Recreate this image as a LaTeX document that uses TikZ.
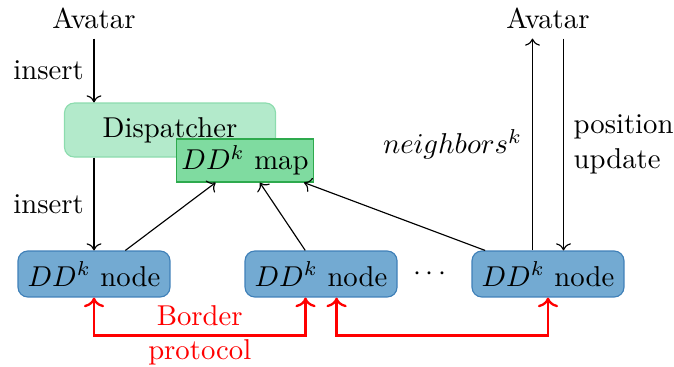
\documentclass[tikz,border=0pt]{standalone}
\usepackage{tikz}
\usetikzlibrary{positioning, arrows.meta}

\definecolor{dispfill}{HTML}{B3EACB}
\definecolor{dispdraw}{HTML}{8CDCAE}
\definecolor{mapfill}{HTML}{7FDBA0}
\definecolor{mapdraw}{HTML}{2EAA4E}
\definecolor{ddfill}{HTML}{73AAD2}
\definecolor{dddraw}{HTML}{3F80B8}

\tikzset{
  dispbox/.style={draw=dispdraw, fill=dispfill, rounded corners=0.12cm,
    minimum width=2.584cm, minimum height=0.661cm},
  mapbox/.style={draw=mapdraw, fill=mapfill, inner sep=1.8pt,
    minimum width=1.665cm, minimum height=0.527cm},
  ddbox/.style={draw=dddraw, fill=ddfill, rounded corners=0.12cm,
    minimum width=1.861cm, minimum height=0.563cm},
  border/.style={<->, thick, red},
}

\begin{document}
\begin{tikzpicture}
  % Size settings
  \def\rowy{-3.355}  % y of the DD^k nodes
  \def\topy{-0.22}   % y of the avatars
  \def\drop{0.465}   % depth of the border protocol links
  \def\off{0.19}     % side offset of the parallel arrows

  \useasboundingbox (0,0) rectangle (8.253,-4.482);

  % Avatars
  \node (avL) at (1.151, \topy) {Avatar};
  \node (avR) at (6.71, \topy) {Avatar};

  % Dispatcher with its map on top
  \node[dispbox] (disp) at (2.082, -1.592) {Dispatcher};
  \node[mapbox] (map) at (3.0, -1.965) {$DD^k$ map};

  % Row of DD^k nodes
  \node[ddbox] (n1) at (1.151, \rowy) {$DD^k$ node};
  \node[ddbox] (n2) at (3.931, \rowy) {$DD^k$ node};
  \node (dots) at (5.265, \rowy) {$\cdots$};
  \node[ddbox] (n3) at (6.71, \rowy) {$DD^k$ node};

  % Insert path
  \draw[->] (avL) -- node[left] {insert} (avL |- disp.north);
  \draw[->] (avL |- disp.south) -- node[left] {insert} (n1);

  % Nodes report to the map
  \draw[->] (n1) -- (map);
  \draw[->] (n2) -- (map);
  \draw[->] (n3) -- (map);

  % Avatar exchange
  \draw[->] ([xshift=-\off cm]n3.north) -- node[left] {$neighbors^k$}
    ([xshift=-\off cm]avR.south);
  \draw[->] ([xshift=\off cm]avR.south) -- node[right, align=left] {position\\update}
    ([xshift=\off cm]n3.north);

  % Border protocol
  \draw[border] (n1.south) -- ++(0,-\drop) -|
    node[pos=0.25, align=center, text=red] (bp) {Border\\protocol}
    ([xshift=-\off cm]n2.south);
  \draw[border] ([xshift=\off cm]n2.south) -- ++(0,-\drop) -| (n3.south);

\end{tikzpicture}
\end{document}
